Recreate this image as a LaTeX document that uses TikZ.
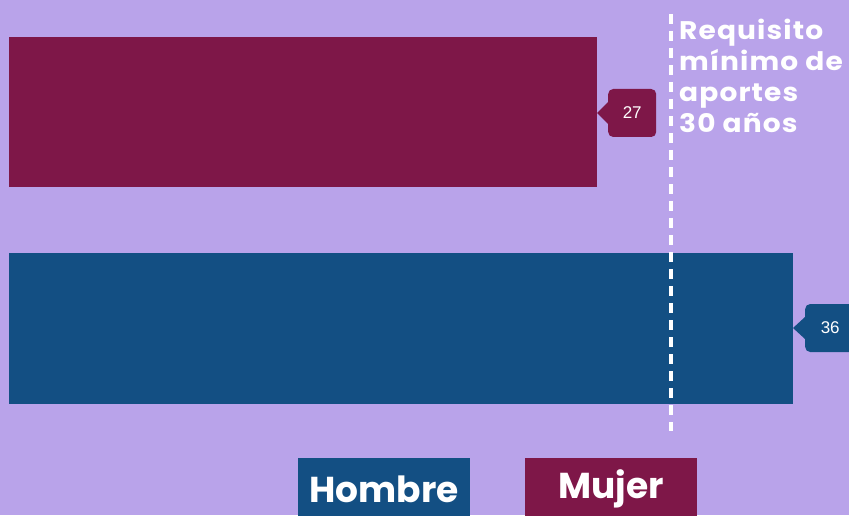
\documentclass[tikz,border=0pt]{standalone}
\usepackage{fontspec}
\usepackage{graphicx}
\setmainfont{Liberation Sans}
\newfontfamily\popb{Poppins}[UprightFont=* Bold]
\newfontfamily\popbw{Poppins}[UprightFont=* Bold, LetterSpace=4]
\definecolor{bgc}{HTML}{B9A3EA}
\definecolor{mujc}{HTML}{7E1748}
\definecolor{homc}{HTML}{134F83}
\begin{document}
\begin{tikzpicture}[x=1pt,y=1pt,
  valbox/.style={rounded corners=5pt, inner sep=0pt, minimum width=48pt, minimum height=48pt, text=white, font=\fontsize{17}{17}\selectfont},
  legbox/.style={inner sep=0pt, minimum width=172pt, minimum height=60pt},
  legtext/.style={inner sep=0pt, text=white, font=\popb\fontsize{36}{36}\selectfont},
  reqline/.style={draw=white, line width=4pt, dash pattern=on 10pt off 7pt}]
\fill[bgc] (0,0) rectangle (849,515);
\useasboundingbox (0,0) rectangle (849,515);
% bars
\fill[mujc] (9,328) rectangle (597,478);
\fill[homc] (9,111) rectangle (793,262);
\coordinate (mtip) at (597,402);
\coordinate (htip) at (793,187);
% value callouts
\node[valbox, fill=mujc, anchor=west] (v27) at (608,402) {27};
\fill[mujc] (mtip) -- ([yshift=11pt]v27.west) -- ([yshift=-11pt]v27.west) -- cycle;
\node[valbox, fill=homc, anchor=west, minimum width=50pt] (v36) at (805,187) {36};
\fill[homc] (htip) -- ([yshift=11pt]v36.west) -- ([yshift=-11pt]v36.west) -- cycle;
% requirement line
\coordinate (rtop) at (671,501);
\coordinate (rbot) at (671,84);
\draw[reqline] (rtop) -- (rbot);
\node[anchor=north west, inner sep=0pt, text=white, align=left,
  font=\popbw\fontsize{25.5}{31}\selectfont] (req) at (679,496)
  {\scalebox{1.1}[1]{Requisito}\\\scalebox{1.1}[1]{mínimo de}\\\scalebox{1.1}[1]{aportes}\\\scalebox{1.1}[1]{30 años}};
% legend
\node[legbox, fill=homc, anchor=north west] (lh) at (298,57) {};
\node[legbox, fill=mujc, anchor=north west] (lm) at (525,57) {};
\node[legtext] (lht) at ([yshift=-1pt]lh.center) {Hombre};
\node[legtext] (lmt) at ([yshift=-1pt]lm.center) {Mujer};
\end{tikzpicture}
\end{document}
